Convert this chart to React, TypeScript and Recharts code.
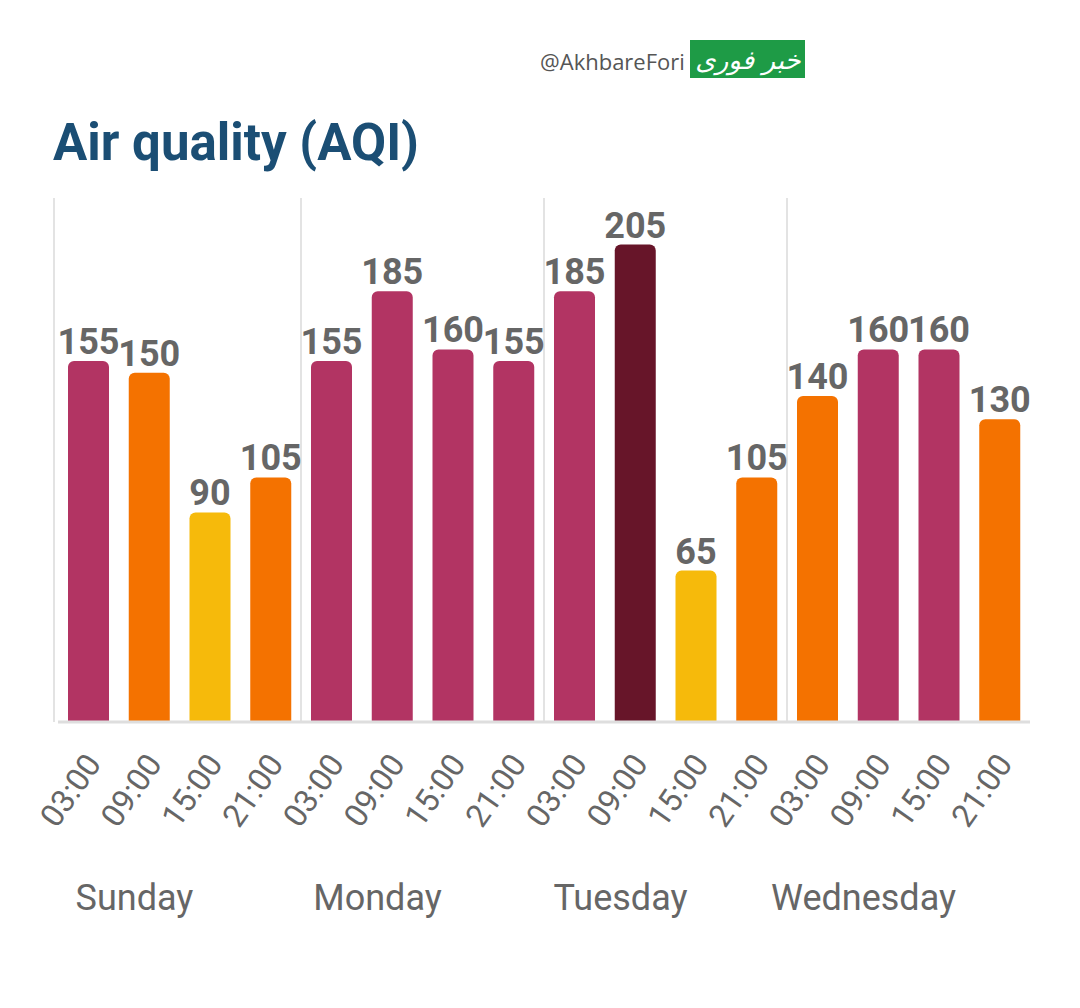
import { BarChart, Bar, XAxis, YAxis, CartesianGrid, Cell, LabelList } from "recharts";

const days = ["Sunday", "Monday", "Tuesday", "Wednesday"];
const times = ["03:00", "09:00", "15:00", "21:00"];
const sunday = [155, 150, 90, 105];
const monday = [155, 185, 160, 155];
const tuesday = [185, 205, 65, 105];
const wednesday = [140, 160, 160, 130];

const allDays = [sunday, monday, tuesday, wednesday];

const data = allDays.flatMap((vals, d) =>
    vals.map((v, i) => ({
        key: `${days[d]}-${times[i]}`,
        time: times[i],
        day: days[d],
        value: v,
    }))
);

// AQI category colours
const aqiColor = (v: number) => {
    if (v > 200) return "#671529";
    if (v > 150) return "#B23463";
    if (v > 100) return "#F47200";
    return "#F6BA0B";
};

const FONT = "Roboto, 'Noto Sans', sans-serif";

const TimeTick = (props: any) => {
    const { x, y, label } = props;
    const tx = x + 14;
    const ty = y + 42;
    return (
        <text
            x={tx}
            y={ty}
            transform={`rotate(-55, ${tx}, ${ty})`}
            textAnchor="end"
            fontSize={32}
            fill="#666"
            fontFamily={FONT}
        >
            {label}
        </text>
    );
};

const DayTick = (props: any) => {
    const { x, y, payload } = props;
    return (
        <text x={x - 45} y={y + 38} textAnchor="middle" fontSize={36} fill="#666" fontFamily={FONT}>
            {payload.value}
        </text>
    );
};

export default function App() {
    return (
        <div style={{ position: "absolute", left: 0, top: 0, width: 1080, height: 1008, background: "#fff" }}>
            <BarChart
                width={1080}
                height={1008}
                data={data}
                margin={{ top: 198, right: 50, left: 58, bottom: 0 }}
            >
                <CartesianGrid
                    xAxisId="a_time"
                    horizontal={false}
                    stroke="#e3e3e3"
                    strokeWidth={2}
                    verticalCoordinatesGenerator={({ offset }: any) =>
                        [0, 1, 2, 3].map((i) => offset.left + (i * offset.width) / 4 - (i === 0 ? 4 : 0))
                    }
                />
                <XAxis
                    xAxisId="a_time"
                    dataKey="key"
                    interval={0}
                    height={150}
                    tickSize={0}
                    tickMargin={0}
                    tickLine={false}
                    axisLine={{ stroke: "#dedede", strokeWidth: 3 }}
                    tick={(p: any) => <TimeTick {...p} label={data[p.index]?.time} />}
                />
                <XAxis
                    xAxisId="b_day"
                    dataKey="day"
                    allowDuplicatedCategory={false}
                    interval={0}
                    height={136}
                    tickSize={0}
                    tickMargin={0}
                    tickLine={false}
                    axisLine={false}
                    tick={<DayTick />}
                />
                <YAxis hide domain={[0, 225]} />
                <Bar xAxisId="a_time" dataKey="value" barSize={41} radius={[6, 6, 0, 0]} isAnimationActive={false}>
                    {data.map((d) => (
                        <Cell key={d.key} fill={aqiColor(d.value)} />
                    ))}
                    <LabelList
                        dataKey="value"
                        position="top"
                        offset={7}
                        fill="#666"
                        fontSize={36}
                        fontWeight="bold"
                        fontFamily={FONT}
                    />
                </Bar>
            </BarChart>
            <svg width={1080} height={1008} style={{ position: "absolute", left: 0, top: 0, pointerEvents: "none" }}>
                <text x={540} y={70} fontSize={22} fill="#555" fontFamily="'Open Sans', sans-serif">
                    @AkhbareFori
                </text>
                <rect x={690} y={40} width={115} height={38} fill="#1E9B46" />
                <text
                    x={748}
                    y={69}
                    textAnchor="middle"
                    fontSize={26}
                    fill="#fff"
                    fontFamily="'DejaVu Sans', sans-serif"
                    fontStyle="italic"
                >
                    خبر فوری
                </text>
                <text x={53} y={160} fontSize={51} fontWeight="bold" fill="#1B4E74" fontFamily={FONT}>
                    Air quality (AQI)
                </text>
            </svg>
        </div>
    );
}
